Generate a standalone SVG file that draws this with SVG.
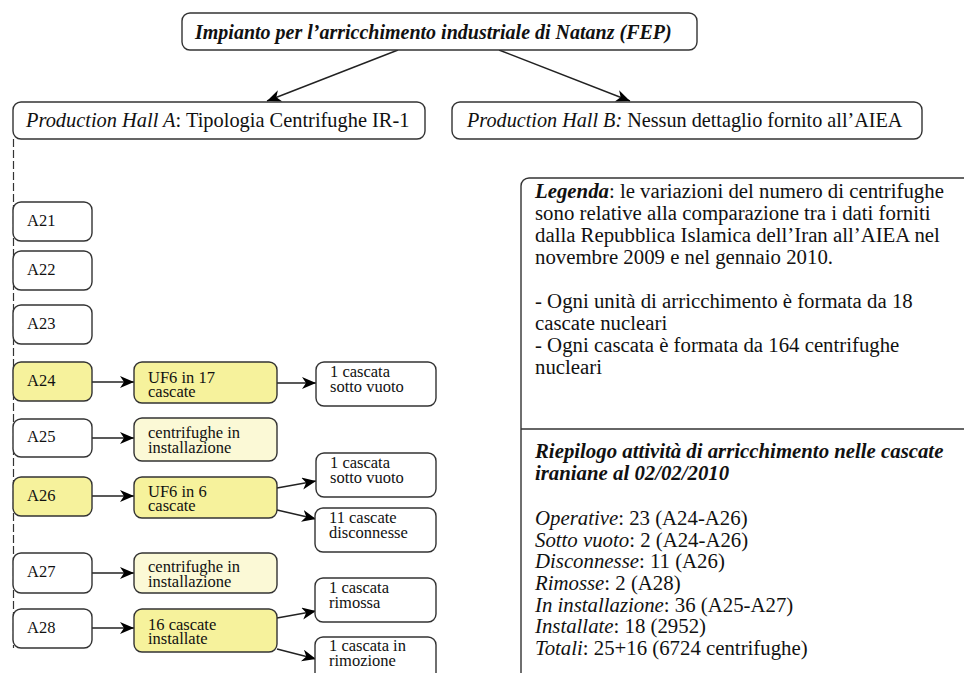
<svg xmlns="http://www.w3.org/2000/svg" width="964" height="673" viewBox="0 0 964 673">
<defs>
<style>
text{font-family:"Liberation Serif","Times New Roman",serif;fill:#111}
.box{fill:#fff;stroke:#333;stroke-width:1.4}
.yel{fill:#f6f29c;stroke:#333;stroke-width:1.4}
.pale{fill:#fbf9d6;stroke:#333;stroke-width:1.4}
.leg{font-size:20.8px}
.a{font-size:16.5px}
.m{font-size:16.5px}
.bi{font-weight:bold;font-style:italic}
.i{font-style:italic}
.con{stroke:#222;stroke-width:1.4;fill:none;marker-end:url(#arr)}
</style>
<marker id="arr" markerUnits="userSpaceOnUse" markerWidth="16" markerHeight="14" refX="14" refY="6" orient="auto">
<path d="M0,0 L14,6 L0,12 L4,6 z" fill="#000"/>
</marker>
</defs>
<rect width="964" height="673" fill="#fff"/>

<g id="connectors">
<line x1="13.5" y1="139" x2="13.5" y2="648" stroke="#333" stroke-width="1.2" stroke-dasharray="8 3"/>
<line class="con" x1="398" y1="50" x2="267" y2="101"/>
<line class="con" x1="499" y1="50" x2="630" y2="101"/>
<line class="con" x1="92" y1="382" x2="134" y2="382"/>
<line class="con" x1="277" y1="383" x2="316" y2="383"/>
<line class="con" x1="92" y1="438" x2="134" y2="438"/>
<line class="con" x1="92" y1="496" x2="134" y2="496"/>
<line class="con" x1="277" y1="488" x2="316" y2="481"/>
<line class="con" x1="277" y1="510" x2="316" y2="519"/>
<line class="con" x1="92" y1="573" x2="134" y2="573"/>
<line class="con" x1="92" y1="628" x2="134" y2="628"/>
<line class="con" x1="277" y1="618" x2="316" y2="611"/>
<line class="con" x1="277" y1="649" x2="316" y2="659"/>
</g>

<g id="fep">
<rect class="box" x="182" y="13" width="515" height="37" rx="8"/>
<text class="bi" x="195" y="39" font-size="20">Impianto per l’arricchimento industriale di Natanz (FEP)</text>
</g>

<g id="hallA">
<rect class="box" x="13" y="102" width="412" height="37" rx="8"/>
<text x="26" y="127" font-size="20.4"><tspan class="i">Production Hall A</tspan>: Tipologia Centrifughe IR-1</text>
</g>

<g id="hallB">
<rect class="box" x="452" y="102" width="470" height="37" rx="8"/>
<text x="467" y="127" font-size="20.2"><tspan class="i">Production Hall B:</tspan> Nessun dettaglio fornito all’AIEA</text>
</g>

<g id="A21"><rect class="box" x="13" y="202" width="79" height="39" rx="8"/><text class="a" x="27" y="226">A21</text></g>
<g id="A22"><rect class="box" x="13" y="251" width="79" height="39" rx="8"/><text class="a" x="27" y="275">A22</text></g>
<g id="A23"><rect class="box" x="13" y="305" width="79" height="39" rx="8"/><text class="a" x="27" y="329">A23</text></g>
<g id="A24"><rect class="yel" x="13" y="362" width="79" height="39" rx="8"/><text class="a" x="27" y="386">A24</text></g>
<g id="A25"><rect class="box" x="13" y="419" width="79" height="38" rx="8"/><text class="a" x="27" y="442">A25</text></g>
<g id="A26"><rect class="yel" x="13" y="477" width="79" height="39" rx="8"/><text class="a" x="27" y="501">A26</text></g>
<g id="A27"><rect class="box" x="13" y="553" width="79" height="40" rx="8"/><text class="a" x="27" y="577">A27</text></g>
<g id="A28"><rect class="box" x="13" y="609" width="79" height="39" rx="8"/><text class="a" x="27" y="633">A28</text></g>

<g id="A24-uf6"><rect class="yel" x="134" y="362" width="143" height="41" rx="8"/><text class="m" x="148" y="382.5">UF6 in 17</text><text class="m" x="148" y="397">cascate</text></g>
<g id="A25-inst"><rect class="pale" x="134" y="418" width="143" height="43" rx="8"/><text class="m" x="148" y="438">centrifughe in</text><text class="m" x="148" y="453">installazione</text></g>
<g id="A26-uf6"><rect class="yel" x="134" y="477" width="143" height="41" rx="8"/><text class="m" x="148" y="496.5">UF6 in 6</text><text class="m" x="148" y="511">cascate</text></g>
<g id="A27-inst"><rect class="pale" x="134" y="553" width="143" height="40" rx="8"/><text class="m" x="148" y="572">centrifughe in</text><text class="m" x="148" y="587">installazione</text></g>
<g id="A28-inst"><rect class="yel" x="134" y="609" width="143" height="43" rx="8"/><text class="m" x="148" y="629.5">16 cascate</text><text class="m" x="148" y="644">installate</text></g>

<g id="A24-vuoto"><rect class="box" x="316" y="362" width="120" height="44" rx="8"/><text class="m" x="330" y="377">1 cascata</text><text class="m" x="330" y="391.5">sotto vuoto</text></g>
<g id="A26-vuoto"><rect class="box" x="316" y="453" width="120" height="44" rx="8"/><text class="m" x="330" y="468">1 cascata</text><text class="m" x="330" y="482.5">sotto vuoto</text></g>
<g id="A26-disc"><rect class="box" x="315" y="508" width="121" height="44" rx="8"/><text class="m" x="329" y="523">11 cascate</text><text class="m" x="329" y="537.5">disconnesse</text></g>
<g id="A28-rim"><rect class="box" x="315" y="578" width="121" height="44" rx="8"/><text class="m" x="329" y="593">1 cascata</text><text class="m" x="329" y="607.5">rimossa</text></g>
<g id="A28-rimoz"><rect class="box" x="315" y="637" width="121" height="60" rx="8"/><text class="m" x="329" y="651">1 cascata in</text><text class="m" x="329" y="665.5">rimozione</text></g>

<g id="legenda">
<rect class="box" x="521" y="178" width="470" height="530" rx="8"/>
<line x1="521" y1="429" x2="964" y2="429" stroke="#333" stroke-width="1.4"/>
<text class="leg" x="535" y="198"><tspan class="bi">Legenda</tspan>: le variazioni del numero di centrifughe</text>
<text class="leg" x="535" y="220">sono relative alla comparazione tra i dati forniti</text>
<text class="leg" x="535" y="242">dalla Repubblica Islamica dell’Iran all’AIEA nel</text>
<text class="leg" x="535" y="264">novembre 2009 e nel gennaio 2010.</text>
<text class="leg" x="535" y="308">- Ogni unità di arricchimento è formata da 18</text>
<text class="leg" x="535" y="330">cascate nucleari</text>
<text class="leg" x="535" y="352">- Ogni cascata è formata da 164 centrifughe</text>
<text class="leg" x="535" y="374">nucleari</text>
<text class="leg bi" x="535" y="458">Riepilogo attività di arricchimento nelle cascate</text>
<text class="leg bi" x="535" y="480">iraniane al 02/02/2010</text>
<text class="leg" x="535" y="525"><tspan class="i">Operative</tspan>: 23 (A24-A26)</text>
<text class="leg" x="535" y="547"><tspan class="i">Sotto vuoto</tspan>: 2 (A24-A26)</text>
<text class="leg" x="535" y="568"><tspan class="i">Disconnesse</tspan>: 11 (A26)</text>
<text class="leg" x="535" y="590"><tspan class="i">Rimosse</tspan>: 2 (A28)</text>
<text class="leg" x="535" y="612"><tspan class="i">In installazione</tspan>: 36 (A25-A27)</text>
<text class="leg" x="535" y="633"><tspan class="i">Installate</tspan>: 18 (2952)</text>
<text class="leg" x="535" y="655"><tspan class="i">Totali</tspan>:  25+16 (6724 centrifughe)</text>
</g>
</svg>
